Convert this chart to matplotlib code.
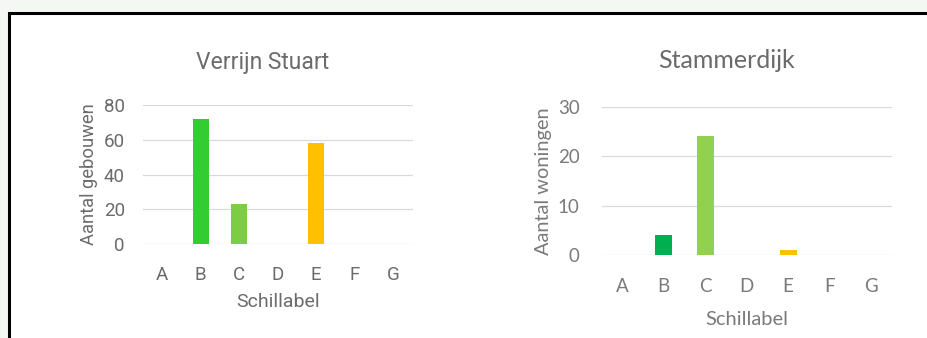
import matplotlib

matplotlib.use("Agg")
import matplotlib.pyplot as plt
from matplotlib.patches import Rectangle

labels = ["A", "B", "C", "D", "E", "F", "G"]

# Verrijn Stuart: aantal gebouwen per schillabel
verrijn_counts = [0, 72, 23, 0, 58, 0, 0]
verrijn_colors = ["#33cc33", "#33cc33", "#7ccc44", "#cccccc", "#ffc000", "#ff8c00", "#ff0000"]

# Stammerdijk: aantal woningen per schillabel
stammer_counts = [0, 4, 24, 0, 1, 0, 0]
stammer_colors = ["#00b050", "#00b050", "#92d050", "#cccccc", "#ffc000", "#ff8c00", "#ff0000"]

W, H = 927, 338
fig = plt.figure(figsize=(W / 100, H / 100), dpi=100)
fig.patch.set_facecolor("#f3f8f2")

# white panel with black frame, running off the right and bottom edge
fig.patches.append(Rectangle((9 / W, -0.1), 1.2, (H - 13) / H + 0.1, transform=fig.transFigure,
                             facecolor="white", edgecolor="black", linewidth=2.2, zorder=-10))


def style_axes(ax, family, color, tick_size):
    for side in ax.spines.values():
        side.set_visible(False)
    ax.set_facecolor("none")
    ax.tick_params(length=0, labelsize=tick_size, colors=color)
    for t in ax.get_xticklabels() + ax.get_yticklabels():
        t.set_family(family)
    ax.grid(axis="y", color="#d9d9d9", linewidth=0.9)
    ax.set_axisbelow(True)
    ax.set_xlim(-0.5, 6.5)


# left chart
ax1 = fig.add_axes([143 / W, (H - 244) / H, 269.5 / W, 139 / H])
ax1.bar(range(len(labels)), verrijn_counts, width=0.42, color=verrijn_colors)
ax1.set_ylim(0, 80)
ax1.set_yticks([0, 20, 40, 60, 80])
ax1.set_xticks(range(len(labels)), labels)
style_axes(ax1, "Roboto", "#6b6b6b", 13.5)
ax1.tick_params(axis="y", pad=13)
ax1.tick_params(axis="x", pad=16)
ax1.set_xlabel("Schillabel", family="Roboto", fontsize=14, color="#6b6b6b", labelpad=6)
ax1.set_ylabel("Aantal gebouwen", family="Roboto", fontsize=13.2, color="#6b6b6b", labelpad=4)
fig.text(263 / W, 1 - 62 / H, "Verrijn Stuart", family="Roboto", fontsize=16.5,
         color="#6b6b6b", ha="center", va="center")

# right chart
ax2 = fig.add_axes([601.7 / W, (H - 255.3) / H, 289.9 / W, 148.6 / H])
ax2.bar(range(len(labels)), stammer_counts, width=0.41, color=stammer_colors)
ax2.set_ylim(0, 30)
ax2.set_yticks([0, 10, 20, 30])
ax2.set_xticks(range(len(labels)), labels)
style_axes(ax2, "Lato", "#7a7a7a", 13.5)
ax2.tick_params(axis="y", pad=16)
ax2.tick_params(axis="x", pad=16)
ax2.set_xlabel("Schillabel", family="Lato", fontsize=14.5, color="#7a7a7a", labelpad=12)
ax2.set_ylabel("Aantal woningen", family="Lato", fontsize=14.4, color="#7a7a7a", labelpad=4)
fig.text(726.7 / W, 1 - 60 / H, "Stammerdijk", family="Lato", fontsize=18,
         color="#6b6b6b", ha="center", va="center")

fig.savefig("out.png", dpi=100, facecolor=fig.get_facecolor())
plt.close(fig)
